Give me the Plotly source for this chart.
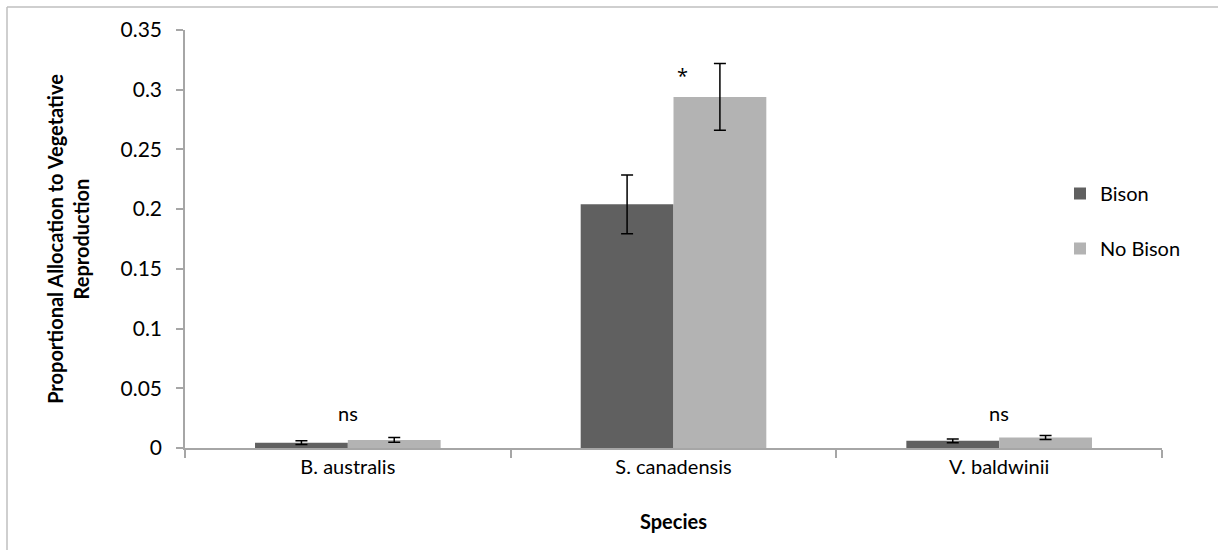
import plotly.graph_objects as go

species = ["B. australis", "S. canadensis", "V. baldwinii"]
bison = [0.0045, 0.204, 0.006]
bison_err = [0.0015, 0.0245, 0.0016]
no_bison = [0.0068, 0.294, 0.0088]
no_bison_err = [0.002, 0.028, 0.0017]
sig_labels = ["ns", "*", "ns"]
sig_y = [0.029, 0.312, 0.029]
yticks = [0, 0.05, 0.1, 0.15, 0.2, 0.25, 0.3, 0.35]
ytick_text = ["0", "0.05", "0.1", "0.15", "0.2", "0.25", "0.3", "0.35"]

W, H = 1218, 550
ML, MR, MT, MB = 185, 56, 30, 102
FONT = "Lato"
AX = "#A6A6A6"

fig = go.Figure()
fig.add_trace(go.Bar(
    name="Bison", x=species, y=bison, marker_color="#606060",
    marker_line_width=0, legendgroup="a",
    error_y=dict(type="data", array=bison_err, color="black", thickness=1.5, width=6),
))
fig.add_trace(go.Bar(
    name="No Bison", x=species, y=no_bison, marker_color="#B3B3B3",
    marker_line_width=0, legendgroup="b",
    error_y=dict(type="data", array=no_bison_err, color="black", thickness=1.5, width=6),
))

pw = W - ML - MR
ph = H - MT - MB
def px_x(p):
    return (p - ML) / pw
def px_y(p):
    return (H - MB - p) / ph

for i, (lab, yv) in enumerate(zip(sig_labels, sig_y)):
    if lab == "*":
        fig.add_annotation(x=species[i], y=yv, text=lab, showarrow=False, xshift=9,
                           font=dict(family="Open Sans", size=20, color="black"))
    else:
        fig.add_annotation(x=species[i], y=yv, text=lab, showarrow=False,
                           font=dict(family=FONT, size=20, color="black"))

# outer border (left and top lines)
fig.add_shape(type="line", xref="paper", yref="paper",
              x0=px_x(7), x1=px_x(W + 5), y0=px_y(7), y1=px_y(7),
              line=dict(color="#BFBFBF", width=1.5))
fig.add_shape(type="line", xref="paper", yref="paper",
              x0=px_x(7), x1=px_x(7), y0=px_y(7), y1=px_y(H + 5),
              line=dict(color="#BFBFBF", width=1.5))

fig.update_layout(
    width=W, height=H,
    margin=dict(l=ML, r=MR, t=MT, b=MB, autoexpand=False),
    paper_bgcolor="white", plot_bgcolor="white",
    barmode="group", bargap=0.43, bargroupgap=0,
    font=dict(family=FONT, size=20, color="black"),
    showlegend=True,
    legend=dict(x=px_x(1060), y=px_y(174), xanchor="left", yanchor="top",
                tracegroupgap=26, font=dict(family=FONT, size=20, color="black"),
                bgcolor="rgba(0,0,0,0)"),
    xaxis=dict(
        showline=True, linecolor=AX, linewidth=1.5,
        ticks="outside", tickson="boundaries", ticklen=8, tickcolor=AX, tickwidth=1.5,
        tickfont=dict(family=FONT, size=20, color="black"),
        title=dict(text="<b>Species</b>", font=dict(family=FONT, size=20, color="black"), standoff=38),
        showgrid=False, zeroline=False,
    ),
    yaxis=dict(
        range=[0, 0.35], tickvals=yticks, ticktext=ytick_text,
        showline=True, linecolor=AX, linewidth=1.5,
        ticks="outside", ticklen=7, tickcolor=AX, tickwidth=1.5,
        ticklabelstandoff=10,
        tickfont=dict(family=FONT, size=21, color="black"),
        title=dict(text="<b>Proportional Allocation to Vegetative<br>Reproduction</b>",
                   font=dict(family=FONT, size=20, color="black"), standoff=26),
        showgrid=False, zeroline=False,
    ),
)

fig.write_html("out.html", config={"displayModeBar": False},
               post_script="document.body.style.margin='0';")
